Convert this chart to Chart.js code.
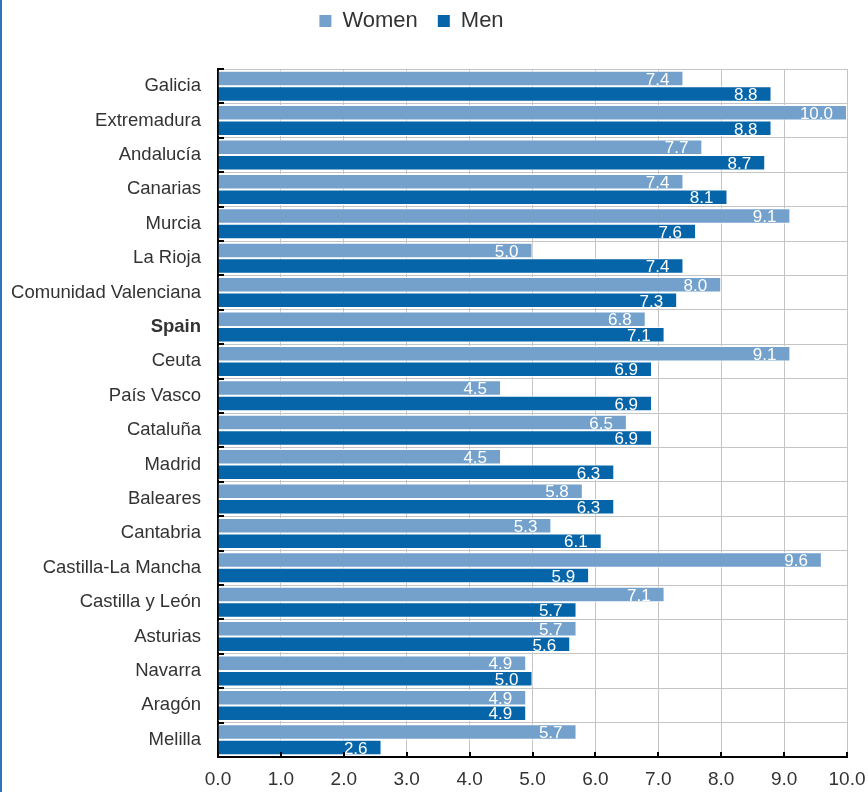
<!DOCTYPE html>
<html>
<head>
<meta charset="utf-8">
<script src="https://cdn.jsdelivr.net/npm/chart.js@4/dist/chart.umd.min.js"></script>
<style>
  html, body { margin: 0; padding: 0; background: #ffffff; }
  #wrap { position: relative; width: 868px; height: 792px; }
  #frame { position: absolute; left: 0; top: 0; width: 2px; height: 792px; background: #2f74b5; }
  canvas { display: block; }
</style>
</head>
<body>
<div id="wrap">
  <canvas id="chart" width="868" height="792"></canvas>
  <div id="frame"></div>
</div>
<script>
// Regions, ordered by the male rate
const regions = [
  'Galicia', 'Extremadura', 'Andalucía', 'Canarias', 'Murcia', 'La Rioja',
  'Comunidad Valenciana', 'Spain', 'Ceuta', 'País Vasco', 'Cataluña', 'Madrid',
  'Baleares', 'Cantabria', 'Castilla-La Mancha', 'Castilla y León', 'Asturias',
  'Navarra', 'Aragón', 'Melilla'
];
const women = [7.4, 10.0, 7.7, 7.4, 9.1, 5.0, 8.0, 6.8, 9.1, 4.5, 6.5, 4.5, 5.8, 5.3, 9.6, 7.1, 5.7, 4.9, 4.9, 5.7];
const men   = [8.8, 8.8, 8.7, 8.1, 7.6, 7.4, 7.3, 7.1, 6.9, 6.9, 6.9, 6.3, 6.3, 6.1, 5.9, 5.7, 5.6, 5.0, 4.9, 2.6];
const xTicks = [0, 1, 2, 3, 4, 5, 6, 7, 8, 9, 10];

const FONT = "'Liberation Sans', Arial, sans-serif";
const TEXT = '#333333';

// Extra room below the legend, and a small nudge of the legend itself
const legendPlacement = {
  id: 'legendPlacement',
  beforeInit(chart) {
    const legend = chart.legend;
    const fit = legend.fit;
    legend.fit = function () {
      fit.call(this);
      this.height += 17;
    };
  },
  afterLayout(chart) {
    const legend = chart.legend;
    legend.top -= 10;
    legend.bottom -= 10;
    legend.left -= 12;
    legend.right -= 12;
  }
};

// Value labels written inside the end of every bar
const barLabels = {
  id: 'barLabels',
  afterDatasetsDraw(chart) {
    const ctx = chart.ctx;
    ctx.save();
    ctx.font = '17px ' + FONT;
    ctx.fillStyle = '#ffffff';
    ctx.textAlign = 'right';
    ctx.textBaseline = 'middle';
    chart.data.datasets.forEach((ds, di) => {
      chart.getDatasetMeta(di).data.forEach((bar, i) => {
        ctx.fillText(ds.data[i].toFixed(1), bar.x - 14, bar.y + 1.5);
      });
    });
    ctx.restore();
  }
};

// Short inward ticks on both axes
const innerTicks = {
  id: 'innerTicks',
  afterDraw(chart) {
    const ctx = chart.ctx;
    const xs = chart.scales.x;
    const a = chart.chartArea;
    ctx.save();
    ctx.strokeStyle = '#000000';
    ctx.lineWidth = 2;
    ctx.beginPath();
    xTicks.forEach(v => {
      const px = Math.round(xs.getPixelForValue(v));
      ctx.moveTo(px, a.bottom);
      ctx.lineTo(px, a.bottom - 5);
    });
    const step = (a.bottom - a.top) / regions.length;
    for (let i = 0; i <= regions.length; i++) {
      const py = Math.round(a.top + i * step);
      ctx.moveTo(a.left, py);
      ctx.lineTo(a.left + 6, py);
    }
    ctx.stroke();
    ctx.restore();
  }
};

new Chart(document.getElementById('chart'), {
  type: 'bar',
  data: {
    labels: regions,
    datasets: [
      { label: 'Women', data: women, backgroundColor: '#73a1cc', borderColor: '#ffffff', borderWidth: 1 },
      { label: 'Men',   data: men,   backgroundColor: '#0565a8', borderColor: '#ffffff', borderWidth: 1 }
    ]
  },
  options: {
    indexAxis: 'y',
    responsive: false,
    animation: false,
    devicePixelRatio: 1,
    categoryPercentage: 0.9,
    barPercentage: 1.0,
    layout: { padding: { top: 0, right: 21, bottom: 0, left: 0 } },
    plugins: {
      legend: {
        position: 'top',
        labels: {
          font: { family: FONT, size: 22 },
          color: TEXT,
          boxWidth: 12,
          boxHeight: 12,
          padding: 20,
          generateLabels(chart) {
            return chart.data.datasets.map((ds, i) => ({
              text: ds.label,
              fillStyle: ds.backgroundColor,
              strokeStyle: ds.backgroundColor,
              fontColor: TEXT,
              lineWidth: 0,
              datasetIndex: i,
              hidden: false
            }));
          }
        }
      },
      tooltip: { enabled: false }
    },
    scales: {
      x: {
        min: 0,
        max: 10,
        afterBuildTicks(scale) { scale.ticks = xTicks.map(v => ({ value: v })); },
        afterFit(scale) {
          scale.height = 35;
          scale.paddingLeft = 0;
          scale.paddingRight = 0;
        },
        ticks: {
          font: { family: FONT, size: 19 },
          color: TEXT,
          padding: 11,
          callback: v => Number(v).toFixed(1)
        },
        grid: { color: '#c4c4c4', lineWidth: 1, drawTicks: false },
        border: { display: true, color: '#000000', width: 2 }
      },
      y: {
        afterFit(scale) { scale.width = 218; },
        ticks: {
          font: ctx => ({ family: FONT, size: 18.5, weight: regions[ctx.index] === 'Spain' ? 'bold' : 'normal' }),
          color: TEXT,
          padding: 17
        },
        grid: { color: '#c4c4c4', lineWidth: 1, drawTicks: false, offset: true },
        border: { display: true, color: '#000000', width: 2 }
      }
    }
  },
  plugins: [legendPlacement, barLabels, innerTicks]
});
</script>
</body>
</html>
